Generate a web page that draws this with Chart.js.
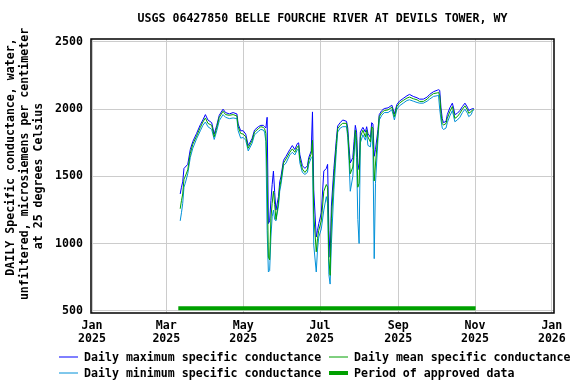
<!DOCTYPE html>
<html><head><meta charset="utf-8">
<script src="https://cdn.jsdelivr.net/npm/chart.js@4/dist/chart.umd.min.js"></script>
<style>html,body{margin:0;padding:0;background:#fff}#wrap{width:576px;height:384px}</style>
</head><body><div id="wrap"><canvas id="c" width="576" height="384"></canvas></div>
<script>
const chartTitle = "USGS 06427850 BELLE FOURCHE RIVER AT DEVILS TOWER, WY";
const yTitleLines = ["DAILY Specific conductance, water,", "unfiltered, microsiemens per centimeter", "at 25 degrees Celsius"];
const tickDays = [0, 59, 120, 181, 243, 304, 365];
const tickMonths = ["Jan", "Mar", "May", "Jul", "Sep", "Nov", "Jan"];
const tickYears = ["2025", "2025", "2025", "2025", "2025", "2025", "2026"];
const yTicks = [500, 1000, 1500, 2000, 2500];
const legendLabels = ["Daily maximum specific conductance", "Daily mean specific conductance", "Daily minimum specific conductance", "Period of approved data"];

// day of year 2025 (0 = Jan 1)
const days = [70,71,72,73,74,76,78,80,83,86,88,90,92,95,97,99,101,104,106,109,112,115,116,118,120,122,124,127,129,132,134,136,137,138,139,140,141,142,143,144,145,146,148,149,150,152,154,157,159,161,163,164,165,167,169,171,172,174,175,176,178,179,180,182,184,186,187,188,189,190,192,194,195,197,199,202,203,204,205,207,208,209,210,211,212,213,215,217,218,219,221,222,223,224,225,227,228,230,232,235,238,239,240,242,244,247,250,252,255,258,260,263,266,268,271,274,275,276,277,278,279,281,282,284,286,287,288,290,292,294,296,298,299,301,302,303];
const meanVals = [1260,1320,1370,1480,1500,1550,1670,1740,1800,1865,1905,1935,1895,1880,1795,1865,1940,1985,1960,1955,1960,1950,1870,1820,1815,1795,1710,1765,1830,1855,1870,1865,1855,1820,1500,900,880,1190,1300,1390,1290,1180,1310,1420,1470,1600,1630,1680,1705,1680,1720,1730,1630,1555,1530,1555,1620,1668,1770,1220,940,1040,1100,1170,1390,1440,1420,890,765,1190,1490,1745,1855,1880,1895,1895,1820,1668,1520,1570,1700,1844,1769,1420,1450,1794,1844,1794,1844,1794,1756,1869,1860,1467,1593,1819,1945,1975,1990,1995,2015,1982,1945,2020,2045,2065,2083,2090,2078,2070,2058,2058,2075,2095,2116,2121,2126,2100,1970,1894,1882,1894,1932,1982,2020,1982,1932,1945,1970,2000,2025,1995,1970,1982,1995,2000];
const maxVals = [1370,1420,1460,1560,1570,1590,1700,1760,1820,1885,1920,1960,1920,1900,1815,1880,1955,2000,1975,1965,1975,1965,1890,1840,1840,1815,1730,1780,1845,1870,1880,1880,1870,1860,1940,1150,1170,1320,1440,1540,1380,1250,1350,1460,1500,1620,1650,1700,1730,1700,1745,1750,1660,1580,1560,1580,1640,1690,1980,1400,1050,1100,1150,1230,1540,1560,1590,1100,900,1280,1560,1780,1875,1900,1920,1910,1860,1720,1600,1640,1760,1880,1830,1600,1550,1830,1865,1830,1870,1820,1790,1900,1890,1650,1700,1850,1960,1990,2005,2010,2030,2000,1965,2035,2060,2080,2100,2110,2095,2085,2075,2075,2090,2110,2130,2141,2145,2140,2010,1930,1900,1910,1960,2010,2045,2010,1960,1970,1990,2020,2045,2015,1990,2000,2005,2005];
const minVals = [1170,1230,1300,1420,1450,1520,1640,1710,1780,1840,1880,1905,1870,1850,1775,1840,1915,1960,1940,1930,1935,1930,1840,1785,1790,1770,1690,1745,1810,1835,1850,1845,1830,1760,1100,790,800,1050,1200,1250,1180,1170,1280,1390,1440,1580,1600,1660,1680,1660,1700,1700,1600,1530,1515,1530,1590,1640,1650,990,790,960,1050,1110,1250,1350,1300,770,700,1000,1400,1700,1830,1860,1870,1870,1790,1618,1390,1500,1650,1810,1640,1180,1002,1750,1810,1770,1820,1731,1720,1840,1700,889,1450,1780,1920,1955,1975,1975,1995,1960,1920,2000,2025,2045,2065,2070,2060,2050,2045,2045,2060,2075,2095,2100,2105,2000,1920,1860,1849,1860,1900,1950,1990,1950,1907,1920,1940,1975,2000,1970,1945,1960,1985,1995];
const approvedDays = [68.5, 304.5];
const approvedLevel = 520;

const FONT = "'DejaVu Sans Mono', 'Liberation Mono', monospace";
const FSIZE = 11.6;
const COL_MAX = "#0000ff", COL_MEAN = "#00a000", COL_MIN = "#0090d8", COL_APP = "#00a000";

const toXY = (vals) => days.map((d, i) => ({x: d, y: vals[i]}));

const decor = {
  id: 'decor',
  afterDraw(chart) {
    const ctx = chart.ctx, a = chart.chartArea;
    ctx.save();
    // frame
    ctx.strokeStyle = '#000'; ctx.lineWidth = 1.5;
    ctx.strokeRect(a.left, a.top, a.right - a.left, a.bottom - a.top);
    ctx.fillStyle = '#000';
    ctx.font = `bold ${FSIZE}px ${FONT}`;
    // title
    ctx.textAlign = 'center'; ctx.textBaseline = 'middle';
    ctx.fillText(chartTitle, (a.left + a.right) / 2, 19);
    // y title
    const yc = [157, 164, 176], xc = [11, 25, 39];
    yTitleLines.forEach((t, i) => {
      ctx.save(); ctx.translate(xc[i], yc[i]); ctx.rotate(-Math.PI / 2);
      ctx.fillText(t, 0, 0); ctx.restore();
    });
    // legend
    ctx.textAlign = 'left';
    const rows = [357, 373];
    const items = [
      {c: COL_MAX, w: 1, x: 59, y: rows[0], t: legendLabels[0]},
      {c: COL_MEAN, w: 1, x: 329, y: rows[0], t: legendLabels[1]},
      {c: COL_MIN, w: 1, x: 59, y: rows[1], t: legendLabels[2]},
      {c: COL_APP, w: 4, x: 329, y: rows[1], t: legendLabels[3]}
    ];
    items.forEach(it => {
      ctx.strokeStyle = it.c; ctx.lineWidth = it.w;
      ctx.beginPath(); ctx.moveTo(it.x, it.y); ctx.lineTo(it.x + 19, it.y); ctx.stroke();
      ctx.fillText(it.t, it.x + 25, it.y + 0.5);
    });
    ctx.restore();
  }
};

new Chart(document.getElementById('c'), {
  type: 'line',
  data: {
    datasets: [
      {label: legendLabels[0], data: toXY(maxVals), borderColor: COL_MAX, borderWidth: 1, pointRadius: 0, order: 3},
      {label: legendLabels[2], data: toXY(minVals), borderColor: COL_MIN, borderWidth: 1, pointRadius: 0, order: 2},
      {label: legendLabels[1], data: toXY(meanVals), borderColor: COL_MEAN, borderWidth: 1, pointRadius: 0, order: 1},
      {label: legendLabels[3], data: approvedDays.map(d => ({x: d, y: approvedLevel})), borderColor: COL_APP, borderWidth: 4, pointRadius: 0, order: 0}
    ]
  },
  options: {
    responsive: false, animation: false, devicePixelRatio: 1,
    layout: {padding: {top: 39, right: 22, left: 0, bottom: 0}},
    plugins: {legend: {display: false}, title: {display: false}, tooltip: {enabled: false}},
    scales: {
      x: {
        type: 'linear', min: -0.8, max: 366.7,
        afterBuildTicks: s => { s.ticks = tickDays.map(v => ({value: v})); },
        afterFit: s => { s.height = 71; },
        ticks: {
          autoSkip: false, maxRotation: 0, padding: 6, color: '#000',
          font: {family: FONT, size: FSIZE, weight: 'bold', lineHeight: 1.15},
          callback: (v, i) => [tickMonths[i], tickYears[i]]
        },
        grid: {color: '#cccccc', lineWidth: 1, tickLength: 0, drawTicks: false},
        border: {display: false}
      },
      y: {
        min: 485, max: 2522,
        afterBuildTicks: s => { s.ticks = yTicks.map(v => ({value: v})); },
        afterFit: s => { s.width = 91; },
        ticks: {
          padding: 8, color: '#000',
          font: {family: FONT, size: FSIZE, weight: 'bold'},
          callback: v => String(v)
        },
        grid: {color: '#cccccc', lineWidth: 1, tickLength: 0, drawTicks: false},
        border: {display: false}
      }
    }
  },
  plugins: [decor]
});
</script></body></html>
